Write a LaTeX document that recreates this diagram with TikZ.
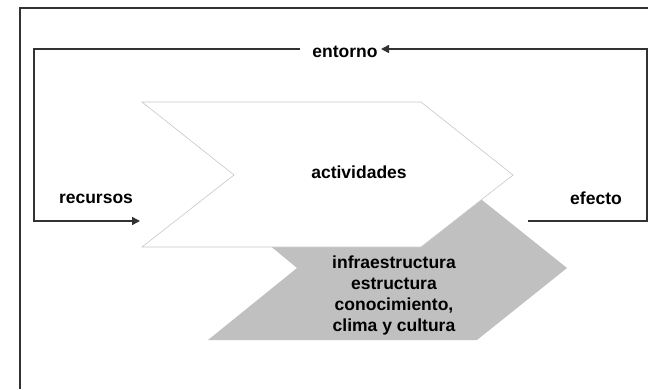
\documentclass[tikz,border=0pt]{standalone}
\usepackage{fontspec}
\setmainfont{Liberation Sans}
\usetikzlibrary{arrows.meta}
\definecolor{framegray}{RGB}{50,50,50}
\definecolor{basegray}{RGB}{192,192,192}
\definecolor{edgegray}{RGB}{200,200,200}
\begin{document}
\begin{tikzpicture}[x=1pt,y=-1pt,
  lbl/.style={font=\fontsize{17.5}{21}\selectfont\bfseries,inner sep=1pt},
  loopline/.style={draw=framegray,line width=1.5pt},
  flow/.style={loopline,-{Triangle[length=8pt,width=8pt]}}]
\useasboundingbox (0,0) rectangle (648,389);
\draw[loopline] (648,8) -- (20,8) -- (20,389) ;

\fill[basegray] (210,196) -- (477,196) -- (567,268) -- (477,340) -- (208,340) -- (297,268) -- cycle ;
\filldraw[fill=white,draw=edgegray,line width=0.6pt] (142,102) -- (421,102) -- (513,175) -- (421,247) -- (142,247) -- (234,175) -- cycle ;

\node[lbl] (entorno) at (345,52) {entorno} ;
\node[lbl] (recursos) at (96,199) {recursos} ;
\node[lbl] (efecto) at (596,198) {efecto} ;
\node[lbl] (actividades) at (359,172) {actividades} ;
\node[lbl,align=center] (base) at (394,295) {infraestructura\\estructura\\conocimiento,\\clima y cultura} ;

\coordinate (gapL) at (300,49) ;
\coordinate (topL) at (34,49) ;
\coordinate (inR) at (140,221) ;
\coordinate (outL) at (528,221) ;
\coordinate (topR) at (647,49) ;
\coordinate (tipE) at (381,49) ;

\draw[flow] (gapL) -- (topL) |- (inR) ;
\draw[flow] (outL) -| (topR) -- (tipE) ;
\end{tikzpicture}
\end{document}
